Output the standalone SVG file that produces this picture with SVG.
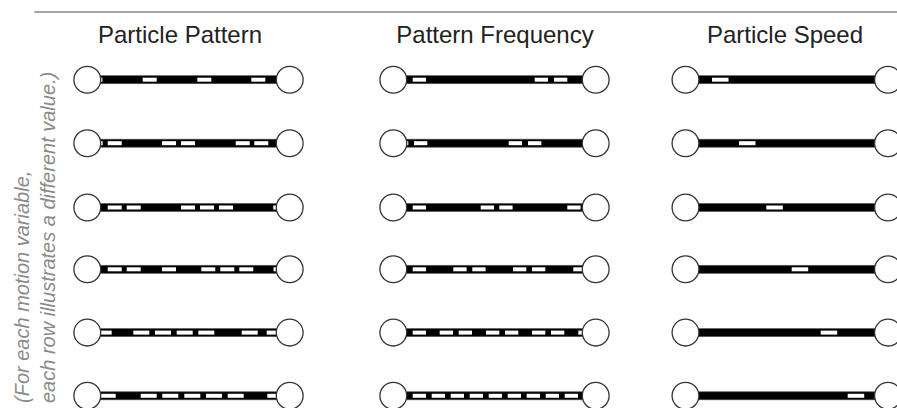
<svg xmlns="http://www.w3.org/2000/svg" width="897" height="408" viewBox="0 0 897 408">
<style>
  .hdr{font-family:"Liberation Sans",Arial,sans-serif;font-size:24px;fill:#222;text-anchor:middle}
  .note{font-family:"Liberation Sans",Arial,sans-serif;font-size:20px;font-style:italic;fill:#8a8a8a}
  .bar{fill:#000;stroke:#555;stroke-width:0.7}
  .d{fill:#fff;height:4px}
  .node{fill:#fff;stroke:#333;stroke-width:1.3}
</style>
<rect width="897" height="408" fill="#fff"/>
<line x1="34.3" y1="12" x2="897" y2="12" stroke="#888" stroke-width="1.3"/>
<g id="headers">
  <text class="hdr" x="180" y="42.7">Particle Pattern</text>
  <text class="hdr" x="495" y="42.7">Pattern Frequency</text>
  <text class="hdr" x="785" y="42.7">Particle Speed</text>
</g>
<g id="note">
  <text class="note" transform="translate(28.5,403) rotate(-90)">(For each motion variable,</text>
  <text class="note" transform="translate(55,403) rotate(-90)">each row illustrates a different value.)</text>
</g>
<g id="connectors">
  <!-- Column 1: Particle Pattern -->
  <g transform="translate(0,79.7)">
    <rect class="bar" x="87.3" y="-4" width="202.4" height="8"/>
    <rect class="d" x="88.4" y="-2" width="14"/><rect class="d" x="142.7" y="-2" width="14"/><rect class="d" x="197.3" y="-2" width="14"/><rect class="d" x="251.3" y="-2" width="14"/>
  </g>
  <g transform="translate(0,143.2)">
    <rect class="bar" x="87.3" y="-4" width="202.4" height="8"/>
    <rect class="d" x="88.7" y="-2" width="14"/><rect class="d" x="107.7" y="-2" width="14"/><rect class="d" x="162" y="-2" width="14"/><rect class="d" x="181" y="-2" width="14"/><rect class="d" x="235.7" y="-2" width="14"/><rect class="d" x="254.3" y="-2" width="14"/>
  </g>
  <g transform="translate(0,207.5)">
    <rect class="bar" x="87.3" y="-4" width="202.4" height="8"/>
    <rect class="d" x="107.7" y="-2" width="14"/><rect class="d" x="126.7" y="-2" width="14"/><rect class="d" x="181" y="-2" width="14"/><rect class="d" x="200" y="-2" width="14"/><rect class="d" x="219" y="-2" width="14"/><rect class="d" x="273.3" y="-2" width="14"/>
  </g>
  <g transform="translate(0,269.3)">
    <rect class="bar" x="87.3" y="-4" width="202.4" height="8"/>
    <rect class="d" x="107.7" y="-2" width="14"/><rect class="d" x="126.7" y="-2" width="14"/><rect class="d" x="162" y="-2" width="14"/><rect class="d" x="201.3" y="-2" width="14"/><rect class="d" x="220.3" y="-2" width="14"/><rect class="d" x="239.3" y="-2" width="14"/><rect class="d" x="273.5" y="-2" width="14"/>
  </g>
  <g transform="translate(0,332.6)">
    <rect class="bar" x="87.3" y="-4" width="202.4" height="8"/>
    <rect class="d" x="95.7" y="-2" width="16"/><rect class="d" x="133.3" y="-2" width="16"/><rect class="d" x="155" y="-2" width="16"/><rect class="d" x="176.7" y="-2" width="16"/><rect class="d" x="198.3" y="-2" width="16"/><rect class="d" x="241.7" y="-2" width="16"/><rect class="d" x="266.7" y="-2" width="16"/>
  </g>
  <g transform="translate(0,395.8)">
    <rect class="bar" x="87.3" y="-4" width="202.4" height="8"/>
    <rect class="d" x="99.7" y="-2" width="16"/><rect class="d" x="140.7" y="-2" width="16"/><rect class="d" x="162.3" y="-2" width="16"/><rect class="d" x="184.3" y="-2" width="16"/><rect class="d" x="206" y="-2" width="16"/><rect class="d" x="227.7" y="-2" width="16"/><rect class="d" x="267.3" y="-2" width="16"/>
  </g>
  <!-- Column 2: Pattern Frequency -->
  <g transform="translate(0,79.7)">
    <rect class="bar" x="393.3" y="-4" width="202.4" height="8"/>
    <rect class="d" x="412.7" y="-2" width="13.3"/><rect class="d" x="534.7" y="-2" width="13.3"/><rect class="d" x="554" y="-2" width="13.3"/>
  </g>
  <g transform="translate(0,143.2)">
    <rect class="bar" x="393.3" y="-4" width="202.4" height="8"/>
    <rect class="d" x="395" y="-2" width="13.3"/><rect class="d" x="414" y="-2" width="13.3"/><rect class="d" x="508.7" y="-2" width="13.3"/><rect class="d" x="528" y="-2" width="13.3"/>
  </g>
  <g transform="translate(0,207.5)">
    <rect class="bar" x="393.3" y="-4" width="202.4" height="8"/>
    <rect class="d" x="412.7" y="-2" width="13.3"/><rect class="d" x="480.7" y="-2" width="13.3"/><rect class="d" x="499.3" y="-2" width="13.3"/><rect class="d" x="567.3" y="-2" width="13.3"/>
  </g>
  <g transform="translate(0,269.3)">
    <rect class="bar" x="393.3" y="-4" width="202.4" height="8"/>
    <rect class="d" x="412.7" y="-2" width="13.3"/><rect class="d" x="453.3" y="-2" width="13.3"/><rect class="d" x="472.3" y="-2" width="13.3"/><rect class="d" x="513" y="-2" width="13.3"/><rect class="d" x="532" y="-2" width="13.3"/><rect class="d" x="573.3" y="-2" width="13.3"/>
  </g>
  <g transform="translate(0,332.6)">
    <rect class="bar" x="393.3" y="-4" width="202.4" height="8"/>
    <rect class="d" x="412.7" y="-2" width="13.3"/><rect class="d" x="439.7" y="-2" width="13.3"/><rect class="d" x="458.7" y="-2" width="13.3"/><rect class="d" x="486" y="-2" width="13.3"/><rect class="d" x="505" y="-2" width="13.3"/><rect class="d" x="532" y="-2" width="13.3"/><rect class="d" x="551" y="-2" width="13.3"/><rect class="d" x="578.3" y="-2" width="13.3"/>
  </g>
  <g transform="translate(0,395.8)">
    <rect class="bar" x="393.3" y="-4" width="202.4" height="8"/>
    <rect class="d" x="412.7" y="-2" width="13.3"/><rect class="d" x="431.7" y="-2" width="13.3"/><rect class="d" x="450.7" y="-2" width="13.3"/><rect class="d" x="469.7" y="-2" width="13.3"/><rect class="d" x="488.7" y="-2" width="13.3"/><rect class="d" x="507.7" y="-2" width="13.3"/><rect class="d" x="526.7" y="-2" width="13.3"/><rect class="d" x="545.7" y="-2" width="13.3"/><rect class="d" x="564.7" y="-2" width="13.3"/>
  </g>
  <!-- Column 3: Particle Speed -->
  <g transform="translate(0,79.7)"><rect class="bar" x="685.5" y="-4" width="202.5" height="8"/><rect class="d" x="712" y="-2" width="16.5"/></g>
  <g transform="translate(0,143.2)"><rect class="bar" x="685.5" y="-4" width="202.5" height="8"/><rect class="d" x="739" y="-2" width="16.5"/></g>
  <g transform="translate(0,207.5)"><rect class="bar" x="685.5" y="-4" width="202.5" height="8"/><rect class="d" x="766.3" y="-2" width="16.5"/></g>
  <g transform="translate(0,269.3)"><rect class="bar" x="685.5" y="-4" width="202.5" height="8"/><rect class="d" x="791.7" y="-2" width="16.5"/></g>
  <g transform="translate(0,332.6)"><rect class="bar" x="685.5" y="-4" width="202.5" height="8"/><rect class="d" x="820.7" y="-2" width="16.5"/></g>
  <g transform="translate(0,395.8)"><rect class="bar" x="685.5" y="-4" width="202.5" height="8"/><rect class="d" x="847.7" y="-2" width="16.5"/></g>
</g>
<g id="nodes">
  <g id="pattern-r1-start"><circle class="node" cx="87.3" cy="79.7" r="13.4"/></g>
  <g id="pattern-r1-end"><circle class="node" cx="289.7" cy="79.7" r="13.4"/></g>
  <g id="pattern-r2-start"><circle class="node" cx="87.3" cy="143.2" r="13.4"/></g>
  <g id="pattern-r2-end"><circle class="node" cx="289.7" cy="143.2" r="13.4"/></g>
  <g id="pattern-r3-start"><circle class="node" cx="87.3" cy="207.5" r="13.4"/></g>
  <g id="pattern-r3-end"><circle class="node" cx="289.7" cy="207.5" r="13.4"/></g>
  <g id="pattern-r4-start"><circle class="node" cx="87.3" cy="269.3" r="13.4"/></g>
  <g id="pattern-r4-end"><circle class="node" cx="289.7" cy="269.3" r="13.4"/></g>
  <g id="pattern-r5-start"><circle class="node" cx="87.3" cy="332.6" r="13.4"/></g>
  <g id="pattern-r5-end"><circle class="node" cx="289.7" cy="332.6" r="13.4"/></g>
  <g id="pattern-r6-start"><circle class="node" cx="87.3" cy="395.8" r="13.4"/></g>
  <g id="pattern-r6-end"><circle class="node" cx="289.7" cy="395.8" r="13.4"/></g>

  <g id="freq-r1-start"><circle class="node" cx="393.3" cy="79.7" r="13.4"/></g>
  <g id="freq-r1-end"><circle class="node" cx="595.7" cy="79.7" r="13.4"/></g>
  <g id="freq-r2-start"><circle class="node" cx="393.3" cy="143.2" r="13.4"/></g>
  <g id="freq-r2-end"><circle class="node" cx="595.7" cy="143.2" r="13.4"/></g>
  <g id="freq-r3-start"><circle class="node" cx="393.3" cy="207.5" r="13.4"/></g>
  <g id="freq-r3-end"><circle class="node" cx="595.7" cy="207.5" r="13.4"/></g>
  <g id="freq-r4-start"><circle class="node" cx="393.3" cy="269.3" r="13.4"/></g>
  <g id="freq-r4-end"><circle class="node" cx="595.7" cy="269.3" r="13.4"/></g>
  <g id="freq-r5-start"><circle class="node" cx="393.3" cy="332.6" r="13.4"/></g>
  <g id="freq-r5-end"><circle class="node" cx="595.7" cy="332.6" r="13.4"/></g>
  <g id="freq-r6-start"><circle class="node" cx="393.3" cy="395.8" r="13.4"/></g>
  <g id="freq-r6-end"><circle class="node" cx="595.7" cy="395.8" r="13.4"/></g>

  <g id="speed-r1-start"><circle class="node" cx="685.5" cy="79.7" r="13.4"/></g>
  <g id="speed-r1-end"><circle class="node" cx="888" cy="79.7" r="13.4"/></g>
  <g id="speed-r2-start"><circle class="node" cx="685.5" cy="143.2" r="13.4"/></g>
  <g id="speed-r2-end"><circle class="node" cx="888" cy="143.2" r="13.4"/></g>
  <g id="speed-r3-start"><circle class="node" cx="685.5" cy="207.5" r="13.4"/></g>
  <g id="speed-r3-end"><circle class="node" cx="888" cy="207.5" r="13.4"/></g>
  <g id="speed-r4-start"><circle class="node" cx="685.5" cy="269.3" r="13.4"/></g>
  <g id="speed-r4-end"><circle class="node" cx="888" cy="269.3" r="13.4"/></g>
  <g id="speed-r5-start"><circle class="node" cx="685.5" cy="332.6" r="13.4"/></g>
  <g id="speed-r5-end"><circle class="node" cx="888" cy="332.6" r="13.4"/></g>
  <g id="speed-r6-start"><circle class="node" cx="685.5" cy="395.8" r="13.4"/></g>
  <g id="speed-r6-end"><circle class="node" cx="888" cy="395.8" r="13.4"/></g>
</g>
</svg>
